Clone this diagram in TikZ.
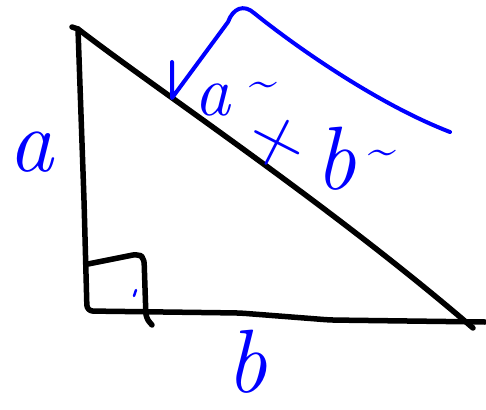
\documentclass[tikz,border=0pt]{standalone}
\usepackage{fontspec}
\tikzset{
  trait/.style={line width=5.5pt, line cap=round, line join=round},
  encre/.style={blue, line width=4pt, line cap=round, line join=round},
  lettre/.style={blue, inner sep=0pt, font=\fontsize{90}{90}\selectfont\itshape},
  petite/.style={blue, inner sep=0pt, font=\fontsize{72}{72}\selectfont\itshape},
  vague/.style={blue, inner sep=0pt, font=\fontsize{50}{50}\selectfont},
}
\begin{document}
\begin{tikzpicture}[x=1pt, y=-1pt]
\useasboundingbox (0,0) rectangle (486,409);
% triangle
\draw[trait, rounded corners=6pt] (78,29) -- (84,200) -- (87,311) -- (240,313) -- (330,320) -- (485,322);
\draw[trait] (72,27) -- (78,29) .. controls (160,92) and (330,205) .. (473,328);
% angle droit
\draw[trait, rounded corners=5pt] (88,264) -- (138,254) -- (144,258) -- (146,318) -- (152,325);
\draw[encre, line width=2.5pt] (134,296) -- (136,290);
% racine
\draw[encre] (172,62) -- (172,98) -- (228,22) .. controls (233,8) and (244,4) .. (254,13) .. controls (300,50) and (380,105) .. (450,132);
\node[lettre] (legA) at (31,152) {a};
\node[lettre] (legB) at (247,362) {b};
\node[petite] (hypA) at (212,100) {a};
\node[vague] (tildeA) at (263,90) {\textasciitilde};
\node[blue, inner sep=0pt, font=\fontsize{80}{80}\selectfont, rotate=-27] (hypPlus) at (277,143) {+};
\node[lettre] (hypB) at (336,159) {b};
\node[vague] (tildeB) at (382,158) {\textasciitilde};
\end{tikzpicture}
\end{document}
